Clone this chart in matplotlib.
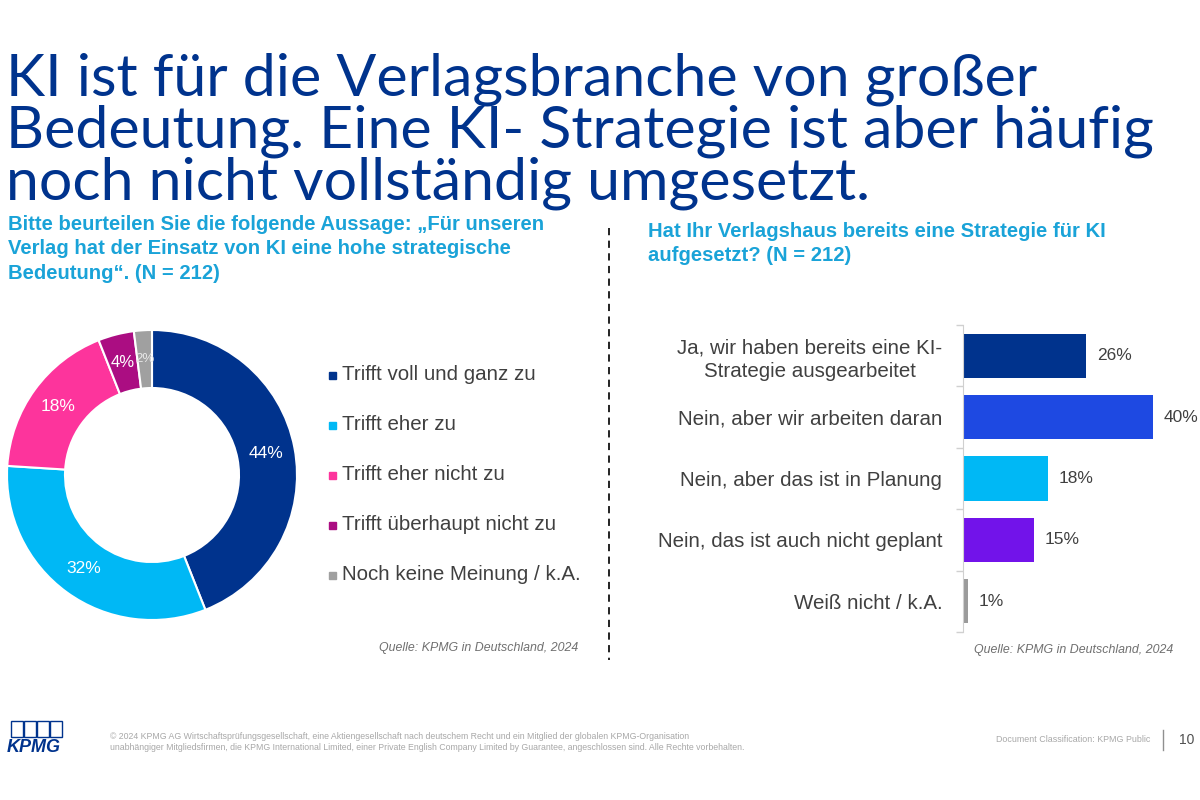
import matplotlib
matplotlib.use("Agg")
import matplotlib.pyplot as plt
from matplotlib.patches import Rectangle
from matplotlib.lines import Line2D

# data
donut_labels = ["Trifft voll und ganz zu", "Trifft eher zu", "Trifft eher nicht zu",
                "Trifft überhaupt nicht zu", "Noch keine Meinung / k.A."]
donut_values = [44, 32, 18, 4, 2]
donut_colors = ["#00338D", "#00B8F5", "#FD349C", "#AB0D82", "#A0A0A0"]

bar_labels = ["Ja, wir haben bereits eine KI-\nStrategie ausgearbeitet",
              "Nein, aber wir arbeiten daran",
              "Nein, aber das ist in Planung",
              "Nein, das ist auch nicht geplant",
              "Weiß nicht / k.A."]
bar_values = [26, 40, 18, 15, 1]
bar_colors = ["#00338D", "#1E49E2", "#00B8F5", "#7213EA", "#9B9B9B"]

title_lines = ["KI ist für die Verlagsbranche von großer",
               "Bedeutung. Eine KI- Strategie ist aber häufig",
               "noch nicht vollständig umgesetzt."]

W, H = 1200, 800
fig = plt.figure(figsize=(12, 8), dpi=100)
fig.patch.set_facecolor("white")


def fx(px):
    return px / W


def fy(py):
    return 1 - py / H


TITLE_C = "#00338D"
SUB_C = "#1AA3D8"
TXT_C = "#404040"

# title
for i, line in enumerate(title_lines):
    fig.text(fx(6), fy(95 + i * 52), line, fontsize=42.5, color=TITLE_C,
             family="Lato", va="baseline", ha="left")

# sub headings
fig.text(fx(8), fy(215), "Bitte beurteilen Sie die folgende Aussage: „Für unseren\n"
         "Verlag hat der Einsatz von KI eine hohe strategische\nBedeutung“. (N = 212)",
         fontsize=14.6, color=SUB_C, weight="bold", family="Liberation Sans",
         va="top", ha="left", linespacing=1.36)
fig.text(fx(648), fy(222), "Hat Ihr Verlagshaus bereits eine Strategie für KI\n"
         "aufgesetzt? (N = 212)",
         fontsize=14.6, color=SUB_C, weight="bold", family="Liberation Sans",
         va="top", ha="left", linespacing=1.36)

# divider
fig.add_artist(Line2D([fx(609), fx(609)], [fy(228), fy(660)], color="#111111",
                      lw=1.3, ls=(0, (4, 3))))

# donut
ax1 = fig.add_axes([fx(7), fy(620), 290 / W, 290 / H])
wedges, texts, autotexts = ax1.pie(
    donut_values, colors=donut_colors, startangle=90, counterclock=False,
    radius=1, autopct=lambda p: f"{p:.0f}%", pctdistance=0.8,
    wedgeprops=dict(width=0.4, edgecolor="white", linewidth=1.5),
    textprops=dict(color="white", fontsize=12.5, family="Liberation Sans"))
autotexts[-2].set_fontsize(12)
autotexts[-1].set_fontsize(9.5)
autotexts[-1].set_color("#E8E8E8")
ax1.set_xlim(-1, 1)
ax1.set_ylim(-1, 1)
ax1.set_aspect("equal")

# legend
for i, (lab, col) in enumerate(zip(donut_labels, donut_colors)):
    y = 375 + i * 50
    fig.add_artist(Rectangle((fx(329), fy(y + 3.5)), 7 / W, 7 / H, color=col,
                             transform=fig.transFigure))
    fig.text(fx(342), fy(y), lab, fontsize=14.8, color=TXT_C,
             family="Liberation Sans", va="center", ha="left")

fig.text(fx(578), fy(648), "Quelle: KPMG in Deutschland, 2024", fontsize=8.9,
         color="#707070", style="italic", family="Liberation Sans",
         ha="right", va="center")

# bar chart
ax2 = fig.add_axes([fx(963), fy(632), 235 / W, 307 / H])
ypos = list(range(len(bar_values)))
ax2.barh(ypos, bar_values, height=0.72, color=bar_colors)
ax2.set_xlim(0, 49.5)
ax2.set_ylim(4.5, -0.5)
ax2.set_yticks(ypos)
ax2.set_yticklabels(bar_labels, fontsize=14.8, color=TXT_C,
                    family="Liberation Sans", ha="right", multialignment="center",
                    linespacing=1.3)
ax2.tick_params(axis="y", which="major", length=0, pad=15)
ax2.set_yticks([y - 0.5 for y in range(len(bar_values) + 1)], minor=True)
ax2.tick_params(axis="y", which="minor", length=5, color="#D0D0D0", width=1)
ax2.set_xticks([])
for s in ["top", "right", "bottom"]:
    ax2.spines[s].set_visible(False)
ax2.spines["left"].set_color("#D0D0D0")
for y, v in zip(ypos, bar_values):
    ax2.text(v + 2.2, y, f"{v}%", fontsize=12.5, color=TXT_C,
             family="Liberation Sans", va="center", ha="left")

fig.text(fx(1173), fy(650), "Quelle: KPMG in Deutschland, 2024", fontsize=8.9,
         color="#707070", style="italic", family="Liberation Sans",
         ha="right", va="center")

# footer
for i in range(4):
    fig.add_artist(Rectangle((fx(11 + i * 13), fy(737)), 12 / W, 16 / H,
                             fill=False, edgecolor="#00338D", lw=1,
                             transform=fig.transFigure))
fig.text(fx(7), fy(747), "KPMG", fontsize=13, weight="bold", style="italic",
         color="#00338D", family="Liberation Sans", va="center", ha="left")
fig.text(fx(110), fy(742),
         "© 2024 KPMG AG Wirtschaftsprüfungsgesellschaft, eine Aktiengesellschaft nach deutschem Recht und ein Mitglied der globalen KPMG-Organisation\n"
         "unabhängiger Mitgliedsfirmen, die KPMG International Limited, einer Private English Company Limited by Guarantee, angeschlossen sind. Alle Rechte vorbehalten.",
         fontsize=6.3, color="#A8A8A8", family="Liberation Sans",
         va="center", ha="left", linespacing=1.3)
fig.text(fx(1150), fy(740), "Document Classification: KPMG Public", fontsize=6.4,
         color="#A8A8A8", family="Liberation Sans", va="center", ha="right")
fig.add_artist(Line2D([fx(1163), fx(1163)], [fy(730), fy(750)], color="#909090", lw=1))
fig.text(fx(1179), fy(740), "10", fontsize=10, color="#505050",
         family="Liberation Sans", va="center", ha="left")

fig.savefig("out.png", dpi=100)
